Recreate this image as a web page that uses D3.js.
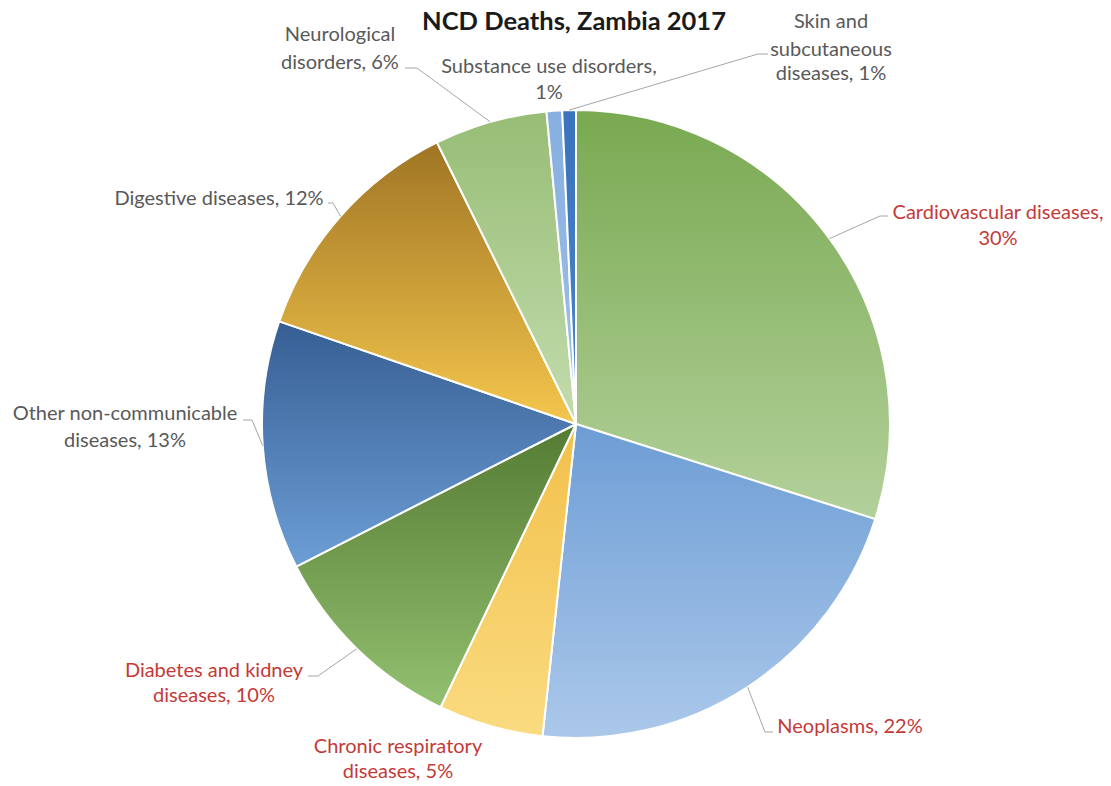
<!DOCTYPE html>
<html><head><meta charset="utf-8">
<script src="https://cdn.jsdelivr.net/npm/d3@7"></script>
<style>body{margin:0;background:#fff}</style>
</head><body><svg id="c" width="1111" height="786"></svg>
<script>
// ---- data ----
const title = "NCD Deaths, Zambia 2017";
const categories = [
  "Cardiovascular diseases", "Neoplasms", "Chronic respiratory diseases",
  "Diabetes and kidney diseases", "Other non-communicable diseases",
  "Digestive diseases", "Neurological disorders", "Substance use disorders",
  "Skin and subcutaneous diseases"
];
const values = [29.9, 21.8, 5.4, 10.4, 12.8, 12.4, 5.8, 0.8, 0.7];
// label lines ({p} = rounded percentage)
const labelLines = [
  ["Cardiovascular diseases,", "{p}"],
  ["Neoplasms, {p}"],
  ["Chronic respiratory", "diseases, {p}"],
  ["Diabetes and kidney", "diseases, {p}"],
  ["Other non-communicable", "diseases, {p}"],
  ["Digestive diseases, {p}"],
  ["Neurological", "disorders, {p}"],
  ["Substance use disorders,", "{p}"],
  ["Skin and", "subcutaneous", "diseases, {p}"]
];
const highlighted = [true, true, true, true, false, false, false, false, false];

// ---- styles / layout ----
const gradColors = [
  ["#79a951", "#b3d19b"],
  ["#6d9dd5", "#abc8ea"],
  ["#f2c04a", "#fadb80"],
  ["#557b33", "#93c070"],
  ["#365e93", "#6c9ed6"],
  ["#9f7524", "#f5c64d"],
  ["#97bd75", "#c3dcae"],
  ["#86afdf", "#a0c1e7"],
  ["#3a73bd", "#4c84c9"]
];
const labelLayout = [
  {x: 998, y: [219, 245], leader: [[880, 216], [888, 216]]},
  {x: 850, y: [733], leader: [[765, 732], [773, 732]]},
  {x: 398, y: [753, 778], leader: null},
  {x: 214, y: [677, 702], leader: [[318, 676], [308, 676]]},
  {x: 125, y: [420, 447], leader: [[252, 420], [243, 420]]},
  {x: 219, y: [205], leader: [[333, 203], [328, 203]]},
  {x: 340, y: [41, 69], leader: [[417, 68], [405, 68]]},
  {x: 549, y: [73, 99], leader: null},
  {x: 831, y: [28, 56, 80], leader: [[758, 54], [768, 54]]}
];
const cx = 576, cy = 424, R = 314;

const svg = d3.select("#c");
const defs = svg.append("defs");
gradColors.forEach((c, i) => {
  const g = defs.append("linearGradient").attr("id", "g" + i)
    .attr("x1", 0).attr("y1", 0).attr("x2", 0).attr("y2", 1);
  g.append("stop").attr("offset", "0%").attr("stop-color", c[0]);
  g.append("stop").attr("offset", "100%").attr("stop-color", c[1]);
});

const data = categories.map((c, i) => ({name: c, value: values[i], i}));
const pie = d3.pie().sort(null).value(d => d.value);
const arcs = pie(data);
const arc = d3.arc().innerRadius(0).outerRadius(R);

const gPie = svg.append("g").attr("transform", `translate(${cx},${cy})`);
gPie.selectAll("path").data(arcs).join("path")
  .attr("d", arc)
  .attr("fill", d => `url(#g${d.data.i})`)
  .attr("stroke", "#fff").attr("stroke-width", 2).attr("stroke-linejoin", "round");

// leaders
const edgePoint = d => {
  const a = (d.startAngle + d.endAngle) / 2;
  return [cx + R * Math.sin(a), cy - R * Math.cos(a)];
};
arcs.forEach(d => {
  const L = labelLayout[d.data.i];
  if (!L.leader) return;
  const pts = [edgePoint(d), ...L.leader];
  svg.append("path").attr("d", d3.line()(pts))
    .attr("fill", "none").attr("stroke", "#a6a6a6").attr("stroke-width", 1);
});

// labels
arcs.forEach(d => {
  const i = d.data.i, L = labelLayout[i];
  const p = Math.round(d.data.value) + "%";
  const t = svg.append("text").attr("text-anchor", "middle")
    .attr("font-family", "Lato, 'Open Sans', sans-serif").attr("font-size", 20)
    .attr("fill", highlighted[i] ? "#c33a37" : "#595959");
  labelLines[i].forEach((ln, k) => {
    t.append("tspan").attr("x", L.x).attr("y", L.y[k]).text(ln.replace("{p}", p));
  });
});

svg.append("text").attr("x", 574).attr("y", 30).attr("text-anchor", "middle")
  .attr("font-family", "Lato, 'Open Sans', sans-serif").attr("font-weight", "bold")
  .attr("font-size", 25.5).attr("fill", "#1a1a1a").text(title);
</script></body></html>
